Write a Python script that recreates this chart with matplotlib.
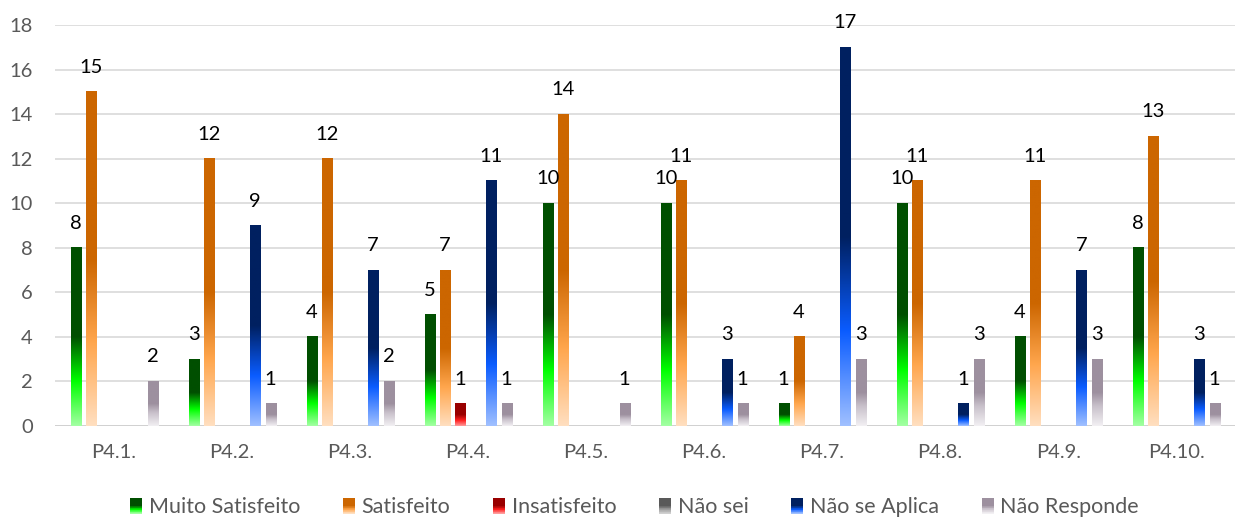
import matplotlib.pyplot as plt
import numpy as np
from matplotlib.colors import LinearSegmentedColormap
from matplotlib.legend_handler import HandlerBase
from matplotlib.patches import Rectangle

plt.rcParams['font.family'] = ['Lato', 'DejaVu Sans']

# Dados do questionário (número de respostas por pergunta)
perguntas = ['P4.1.', 'P4.2.', 'P4.3.', 'P4.4.', 'P4.5.',
             'P4.6.', 'P4.7.', 'P4.8.', 'P4.9.', 'P4.10.']
muito_satisfeito = [8, 3, 4, 5, 10, 10, 1, 10, 4, 8]
satisfeito = [15, 12, 12, 7, 14, 11, 4, 11, 11, 13]
insatisfeito = [0, 0, 0, 1, 0, 0, 0, 0, 0, 0]
nao_sei = [0, 0, 0, 0, 0, 0, 0, 0, 0, 0]
nao_se_aplica = [0, 9, 7, 11, 0, 3, 17, 1, 7, 3]
nao_responde = [2, 1, 2, 1, 1, 1, 3, 3, 3, 1]

series = [
    ('Muito Satisfeito', muito_satisfeito),
    ('Satisfeito', satisfeito),
    ('Insatisfeito', insatisfeito),
    ('Não sei', nao_sei),
    ('Não se Aplica', nao_se_aplica),
    ('Não Responde', nao_responde),
]

# Degradês (de baixo para cima) estilo Excel
gradientes = {
    'Muito Satisfeito': [(0.0, '#a3ffa3'), (0.25, '#00ff00'), (0.5, '#004f00'), (1.0, '#004f00')],
    'Satisfeito': [(0.0, '#ffdfc0'), (0.25, '#ffa64d'), (0.5, '#cc6600'), (1.0, '#cc6600')],
    'Insatisfeito': [(0.0, '#ff9c9c'), (0.25, '#ff2020'), (0.5, '#990000'), (1.0, '#990000')],
    'Não sei': [(0.0, '#d0d0d0'), (0.25, '#a0a0a0'), (0.5, '#595959'), (1.0, '#595959')],
    'Não se Aplica': [(0.0, '#a0c0ff'), (0.25, '#0a5cff'), (0.5, '#002060'), (1.0, '#002060')],
    'Não Responde': [(0.0, '#f2f0f3'), (0.3, '#c8c0ca'), (0.5, '#9d909f'), (1.0, '#9d909f')],
}
cmaps = {nome: LinearSegmentedColormap.from_list(nome, stops) for nome, stops in gradientes.items()}


class HandlerGradiente(HandlerBase):
    def __init__(self, cmap, n=24):
        super().__init__()
        self.cmap = cmap
        self.n = n

    def create_artists(self, legend, orig_handle, xdescent, ydescent,
                       width, height, fontsize, trans):
        artistas = []
        h = height / self.n
        for k in range(self.n):
            r = Rectangle((-xdescent, -ydescent + k * h), width, h * 1.05,
                          facecolor=self.cmap(k / (self.n - 1)),
                          edgecolor='none', transform=trans)
            artistas.append(r)
        return artistas


fig = plt.figure(figsize=(12.37, 5.21), dpi=100)
ax = fig.add_axes([0.0445, 0.1823, 0.954, 0.7697])

x = np.arange(len(perguntas))
passo = 0.1305
largura = 0.085
gradiente = np.linspace(0, 1, 256).reshape(-1, 1)

handles = []
handler_map = {}
for i, (nome, valores) in enumerate(series):
    pos = x + (i - 2.5) * passo
    barras = ax.bar(pos, valores, width=largura, color='none', edgecolor='none')
    for barra, v in zip(barras, valores):
        if v <= 0:
            continue
        x0 = barra.get_x()
        ax.imshow(gradiente, cmap=cmaps[nome], origin='lower', aspect='auto',
                  extent=[x0, x0 + barra.get_width(), 0, v], zorder=2)
        ax.text(barra.get_x() + barra.get_width() / 2, v + 1.1, str(v),
                ha='center', va='center', fontsize=14.5, color='black', zorder=3)
    h = Rectangle((0, 0), 1, 1, label=nome)
    handles.append(h)
    handler_map[h] = HandlerGradiente(cmaps[nome])

ax.set_xlim(-0.5, len(perguntas) - 0.5)
ax.set_ylim(0, 18)
ax.set_yticks(range(0, 19, 2))
ax.set_xticks(x)
ax.set_xticklabels(perguntas)
ax.tick_params(axis='both', length=0, labelsize=14.5, labelcolor='#595959')
ax.tick_params(axis='y', pad=16)
ax.tick_params(axis='x', pad=13)
ax.grid(axis='y', color='#d9d9d9', linewidth=1.2, zorder=0)
ax.set_axisbelow(True)
for s in ax.spines.values():
    s.set_visible(False)
ax.axhline(0, color='#d0d0d0', linewidth=2, zorder=1)

leg = fig.legend(handles=handles, handler_map=handler_map, loc='lower center',
                 bbox_to_anchor=(0.513, -0.03), ncol=6, frameon=False,
                 fontsize=15.5, handlelength=0.55, handleheight=0.75,
                 handletextpad=0.3, columnspacing=2.0)
for t in leg.get_texts():
    t.set_color('#595959')

plt.savefig('out.png', dpi=100)
